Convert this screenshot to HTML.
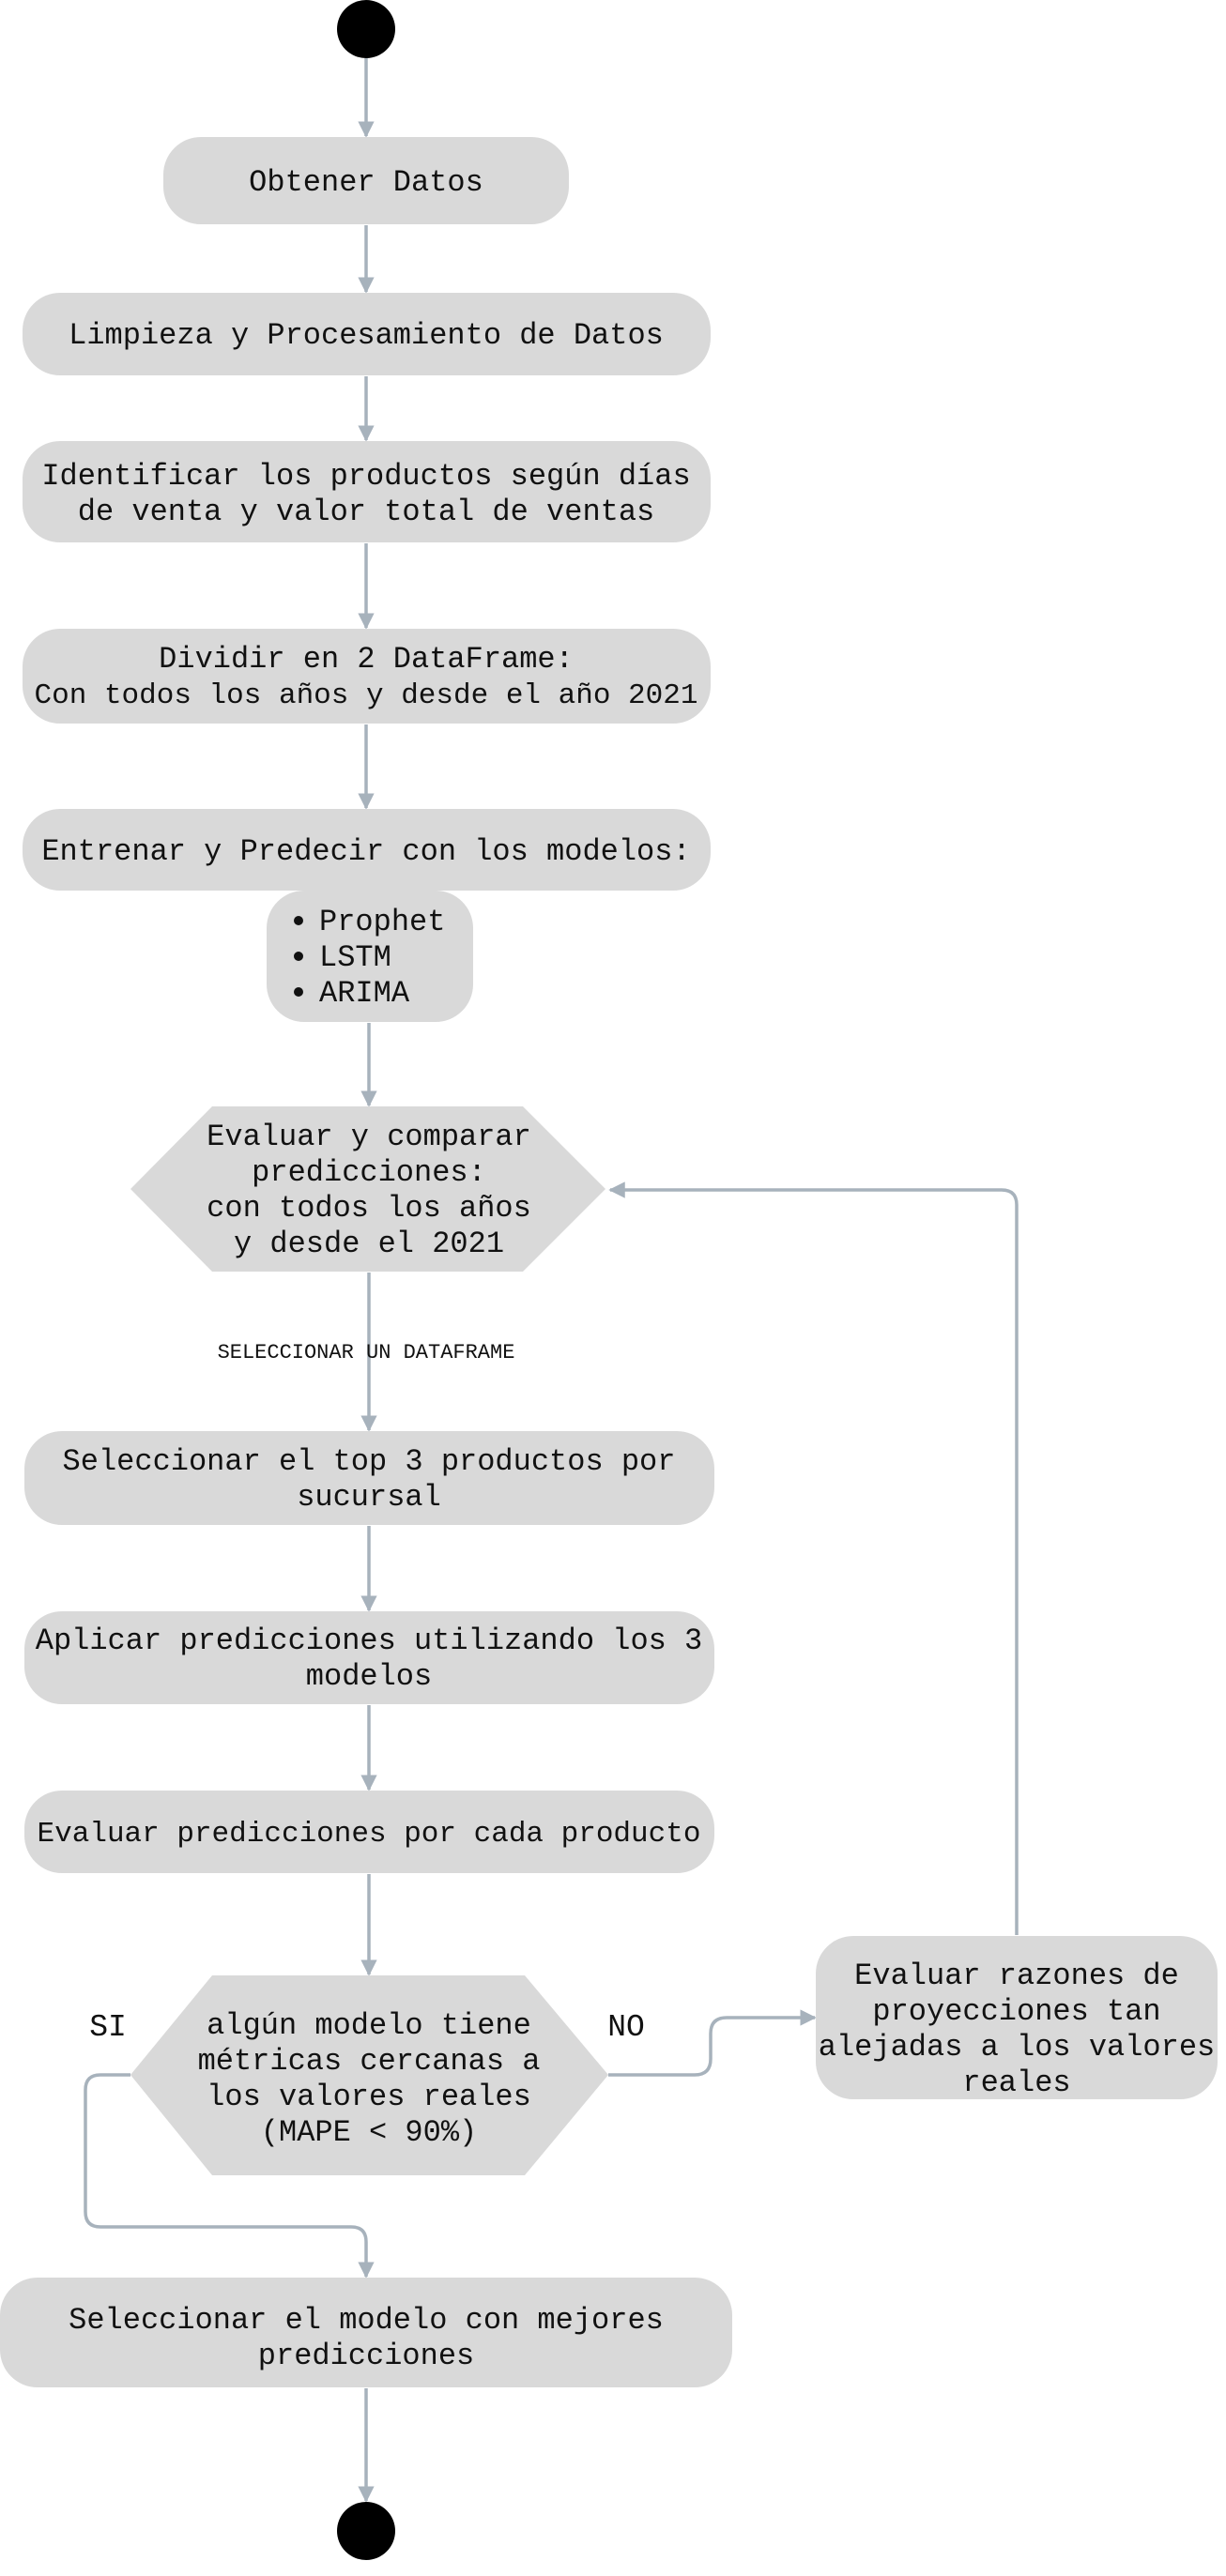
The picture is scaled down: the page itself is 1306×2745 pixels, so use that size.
<!DOCTYPE html>
<html><head><meta charset="utf-8"><style>
html,body{margin:0;padding:0;background:#fff;}
svg{display:block;}
text{font-family:"Liberation Mono",monospace;font-size:32px;fill:#111;text-anchor:middle;}
</style></head><body>
<svg width="1306" height="2745" viewBox="0 0 1306 2745" xmlns="http://www.w3.org/2000/svg">
<defs>
<marker id="a" viewBox="0 0 10 10" refX="9" refY="5" markerWidth="5" markerHeight="5" orient="auto"><path d="M0,0L10,5L0,10z" fill="#a7b2bc"/></marker>
</defs>
<g fill="none" stroke="#a7b2bc" stroke-width="3.5" marker-end="url(#a)">
<path d="M390 62V145"/>
<path d="M390 240V311"/>
<path d="M390 401V469"/>
<path d="M390 579V669"/>
<path d="M390 772V861"/>
<path d="M393 1090V1178"/>
<path d="M393 1356V1524"/>
<path d="M393 1626V1716"/>
<path d="M393 1817V1907"/>
<path d="M393 1997V2104"/>
<path d="M1083 2062V1284Q1083 1268 1067 1268H650"/>
<path d="M648 2211H740Q757 2211 757 2194V2167Q757 2150 774 2150H868"/>
<path d="M139 2211H107Q91 2211 91 2227V2357Q91 2373 107 2373H374Q390 2373 390 2389V2426"/>
<path d="M390 2545V2665"/>
</g>
<circle cx="390" cy="31" r="31" fill="#000"/>
<circle cx="390" cy="2697" r="31" fill="#000"/>
<g fill="#d9d9d9">
<rect x="174" y="146" width="432" height="93" rx="40"/>
<rect x="24" y="312" width="733" height="88" rx="40"/>
<rect x="24" y="470" width="733" height="108" rx="40"/>
<rect x="24" y="670" width="733" height="101" rx="40"/>
<rect x="24" y="862" width="733" height="87" rx="40"/>
<rect x="284" y="949" width="220" height="140" rx="40"/>
<polygon points="139,1267 226,1179 557,1179 645,1267 557,1355 226,1355"/>
<rect x="26" y="1525" width="735" height="100" rx="40"/>
<rect x="26" y="1717" width="735" height="99" rx="40"/>
<rect x="26" y="1908" width="735" height="88" rx="40"/>
<polygon points="139,2211 226,2105 559,2105 648,2211 559,2318 226,2318"/>
<rect x="869" y="2063" width="428" height="174" rx="40"/>
<rect x="0" y="2427" width="780" height="117" rx="40"/>
</g>
<text x="390" y="203">Obtener Datos</text>
<text x="390" y="366">Limpieza y Procesamiento de Datos</text>
<text x="390" y="516">Identificar los productos según días</text>
<text x="390" y="554">de venta y valor total de ventas</text>
<text x="390" y="711">Dividir en 2 DataFrame:</text>
<text x="390" y="749" style="font-size:31px">Con todos los años y desde el año 2021</text>
<text x="390" y="916">Entrenar y Predecir con los modelos:</text>
<text x="340" y="991" style="text-anchor:start">Prophet</text>
<text x="340" y="1029" style="text-anchor:start">LSTM</text>
<text x="340" y="1067" style="text-anchor:start">ARIMA</text>
<circle cx="318" cy="981" r="5" fill="#111"/>
<circle cx="318" cy="1019" r="5" fill="#111"/>
<circle cx="318" cy="1057" r="5" fill="#111"/>
<text x="393" y="1220">Evaluar  y comparar</text>
<text x="393" y="1258">predicciones:</text>
<text x="393" y="1296">con todos los años</text>
<text x="393" y="1334">y desde el 2021</text>
<text x="390" y="1447" style="font-size:22px">SELECCIONAR UN DATAFRAME</text>
<text x="393" y="1566">Seleccionar el top 3 productos por</text>
<text x="393" y="1604">sucursal</text>
<text x="393" y="1757">Aplicar predicciones utilizando los 3</text>
<text x="393" y="1795">modelos</text>
<text x="393" y="1962" style="font-size:31px">Evaluar predicciones por cada producto</text>
<text x="393" y="2167">algún modelo tiene</text>
<text x="393" y="2205">métricas cercanas a</text>
<text x="393" y="2243">los valores reales</text>
<text x="393" y="2281">(MAPE &lt; 90%)</text>
<text x="115" y="2169" style="font-size:33px">SI</text>
<text x="667" y="2169" style="font-size:33px">NO</text>
<text x="1083" y="2114">Evaluar razones de</text>
<text x="1083" y="2152">proyecciones tan</text>
<text x="1083" y="2190">alejadas a los valores</text>
<text x="1083" y="2228">reales</text>
<text x="390" y="2481">Seleccionar el modelo con mejores</text>
<text x="390" y="2519">predicciones</text>
</svg>
</body></html>
